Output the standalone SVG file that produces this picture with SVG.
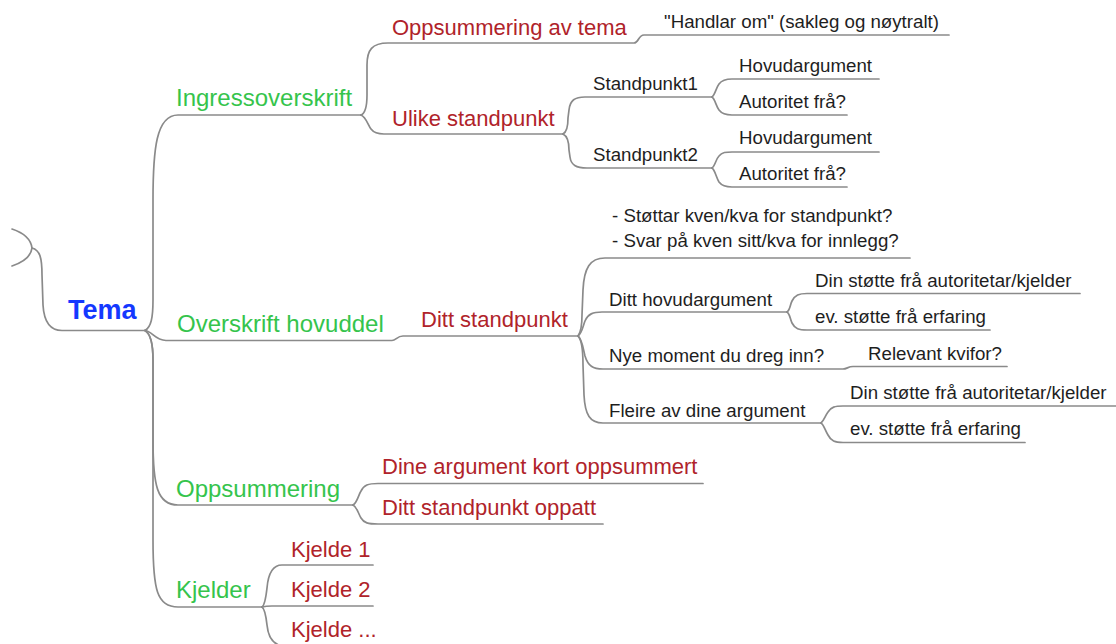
<svg xmlns="http://www.w3.org/2000/svg" width="1116" height="644" viewBox="0 0 1116 644">
  <style>
    .edge { fill: none; stroke: #8a8a8a; stroke-width: 1.7; stroke-linecap: round; }
    text { font-family: "Liberation Sans", Arial, sans-serif; }
    .root { font-size: 27px; font-weight: bold; fill: #1438ff; }
    .l1 { font-size: 24px; fill: #35c44c; }
    .l2 { font-size: 22px; fill: #b0232a; }
    .l3 { font-size: 18.7px; fill: #1e1e1e; }
  </style>
  <rect width="1116" height="644" fill="#ffffff"/>

  <!-- branch lines -->
  <g id="connectors">
    <!-- incoming edge from the parent map -->
    <path class="edge" d="M12,229 C24,233 31,240 32,248 C31,256 24,262 12,266"/>
    <path class="edge" d="M32,248 C40,250 42,258 42,275 L43,305 C44,322 50,330.5 62,330.5 L145,330.5"/>

    <!-- Tema -> main sections -->
    <path class="edge" d="M145,330.5 C151,327 153,318 153,300 L153,200 C153,150 156,115 178,115 L361,115"/>
    <path class="edge" d="M145,330.5 C152,331 155,340.5 166,340.5 L392,340.5 C396,340.5 397,336 403,336 L578,336"/>
    <path class="edge" d="M145,330.5 C151,334 153,345 153,360 L153,440 C153,485 157,505 178,505 L353,505"/>
    <path class="edge" d="M145,330.5 C151,334 153,345 153,360 L153,540 C153,590 157,607 178,607 L262,607"/>

    <!-- Ingressoverskrift -->
    <path class="edge" d="M361,115 C366,113 367,105 367,95 L367,65 C367,50 372,43 388,43 L634,43 C639,43 638,35 644,35 L949,35"/>
    <path class="edge" d="M361,115 C366,117 368,125 371,129 C374,133 378,134 384,134 L563,134"/>

    <!-- Ulike standpunkt -->
    <path class="edge" d="M563,134 C567,132 568,125 568,118 L569,110 C570,100 575,97 585,97 L712,97"/>
    <path class="edge" d="M563,134 C567,136 569,143 569,150 L570,157 C571,165 576,168 587,168 L712,168"/>
    <path class="edge" d="M712,97 C715,95 716,88 719,84 C722,80 726,79 732,79 L879,79"/>
    <path class="edge" d="M712,97 C715,99 716,106 719,110 C722,114 726,115 732,115 L847,115"/>
    <path class="edge" d="M712,168 C715,166 716,159 719,156 C722,152 726,152 732,152 L879,152"/>
    <path class="edge" d="M712,168 C715,170 716,177 719,182 C722,186 726,187 732,187 L847,187"/>

    <!-- Ditt standpunkt -->
    <path class="edge" d="M578,336 C581,332 582,325 582,315 L583,290 C584,268 590,258 605,258 L910,258"/>
    <path class="edge" d="M578,336 C582,333 583,326 585,321 C588,314 593,312 602,312 L787,312"/>
    <path class="edge" d="M578,336 C582,339 583,348 585,356 C588,366 593,369 603,369 L843,369 C847,369 848,366.5 853,366.5 L1007,366.5"/>
    <path class="edge" d="M578,336 C582,340 583,350 583,365 L584,395 C585,415 590,423 603,423 L821,423"/>
    <path class="edge" d="M787,312 C790,310 790,305 792,301 C795,295 799,293.5 807,293.5 L1080,293.5"/>
    <path class="edge" d="M787,312 C790,314 790,319 792,323 C795,329 799,330 807,330 L990,330"/>
    <path class="edge" d="M821,423 C824,421 825,416 828,412 C831,407 835,406 843,406 L1116,406"/>
    <path class="edge" d="M821,423 C824,425 825,430 828,435 C831,441 835,442.5 843,442.5 L1025,442.5"/>

    <!-- Oppsummering -->
    <path class="edge" d="M353,505 C357,503 358,496 361,491 C364,485 368,483.5 378,483.5 L703,483.5"/>
    <path class="edge" d="M353,505 C357,507 358,513 361,518 C364,523 368,524 378,524 L603,524"/>

    <!-- Kjelder -->
    <path class="edge" d="M262,607 C265,605 266,597 267,588 C268,576 271,565 282,565 L373,565"/>
    <path class="edge" d="M262,607 C266,606 268,606 272,606 L373,606"/>
    <path class="edge" d="M262,607 C265,609 266,616 267,625 C268,636 272,644 282,646 L373,646"/>
  </g>

  <g id="tema"><text class="root" x="68" y="319">Tema</text></g>

  <g id="ingressoverskrift"><text class="l1" x="176" y="106">Ingressoverskrift</text></g>
  <g id="oppsummering-av-tema"><text class="l2" x="392" y="35">Oppsummering av tema</text></g>
  <g id="handlar-om"><text class="l3" x="664" y="27.5">"Handlar om" (sakleg og nøytralt)</text></g>
  <g id="ulike-standpunkt"><text class="l2" x="392" y="126">Ulike standpunkt</text></g>
  <g id="standpunkt1"><text class="l3" x="593" y="90">Standpunkt1</text></g>
  <g id="hovudargument1"><text class="l3" x="739" y="72">Hovudargument</text></g>
  <g id="autoritet1"><text class="l3" x="739" y="108">Autoritet frå?</text></g>
  <g id="standpunkt2"><text class="l3" x="593" y="161">Standpunkt2</text></g>
  <g id="hovudargument2"><text class="l3" x="739" y="144">Hovudargument</text></g>
  <g id="autoritet2"><text class="l3" x="739" y="180">Autoritet frå?</text></g>

  <g id="overskrift-hovuddel"><text class="l1" x="177" y="331.5">Overskrift hovuddel</text></g>
  <g id="ditt-standpunkt"><text class="l2" x="421" y="327">Ditt standpunkt</text></g>
  <g id="stottar-kven">
    <text class="l3" x="612" y="222">- Støttar kven/kva for standpunkt?</text>
    <text class="l3" x="612" y="247">- Svar på kven sitt/kva for innlegg?</text>
  </g>
  <g id="ditt-hovudargument"><text class="l3" x="609" y="306">Ditt hovudargument</text></g>
  <g id="stotte-autoritet1"><text class="l3" x="815" y="287">Din støtte frå autoritetar/kjelder</text></g>
  <g id="stotte-erfaring1"><text class="l3" x="815" y="323">ev. støtte frå erfaring</text></g>
  <g id="nye-moment"><text class="l3" x="609" y="362">Nye moment du dreg inn?</text></g>
  <g id="relevant-kvifor"><text class="l3" x="868" y="359.5">Relevant kvifor?</text></g>
  <g id="fleire-argument"><text class="l3" x="609" y="416.5">Fleire av dine argument</text></g>
  <g id="stotte-autoritet2"><text class="l3" x="850" y="398.5">Din støtte frå autoritetar/kjelder</text></g>
  <g id="stotte-erfaring2"><text class="l3" x="850" y="435">ev. støtte frå erfaring</text></g>

  <g id="oppsummering"><text class="l1" x="176" y="496.5">Oppsummering</text></g>
  <g id="dine-argument"><text class="l2" x="382" y="474">Dine argument kort oppsummert</text></g>
  <g id="standpunkt-oppatt"><text class="l2" x="382" y="515">Ditt standpunkt oppatt</text></g>

  <g id="kjelder"><text class="l1" x="176" y="598">Kjelder</text></g>
  <g id="kjelde1"><text class="l2" x="291" y="557">Kjelde 1</text></g>
  <g id="kjelde2"><text class="l2" x="291" y="597">Kjelde 2</text></g>
  <g id="kjelde3"><text class="l2" x="291" y="637">Kjelde ...</text></g>
</svg>
